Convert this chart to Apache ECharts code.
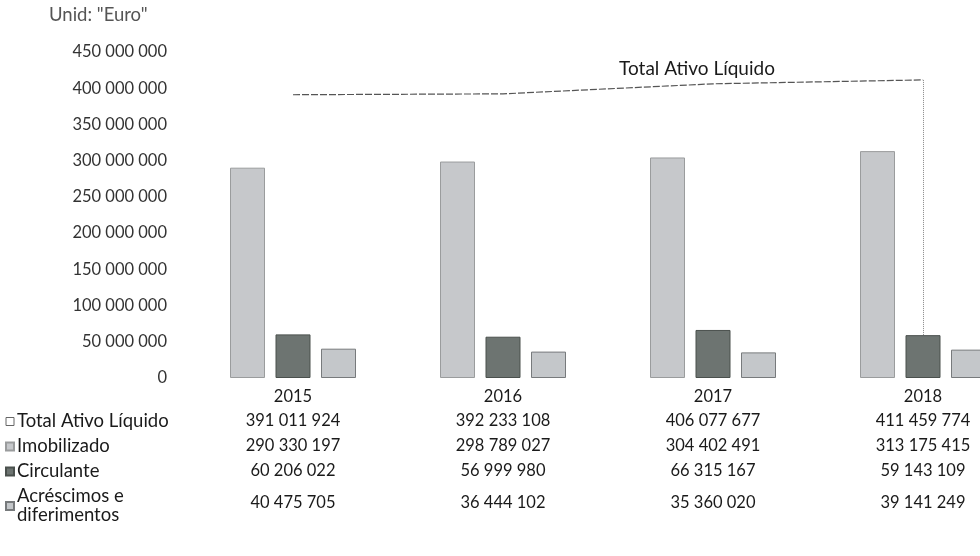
<!DOCTYPE html>
<html>
<head>
<meta charset="utf-8">
<script src="https://cdn.jsdelivr.net/npm/echarts@6/dist/echarts.min.js"></script>
<style>
  html, body { margin: 0; padding: 0; background: #fff; }
  #grafico { width: 980px; height: 556px; }
</style>
</head>
<body>
<div id="grafico"></div>
<script>
const anos = ['2015', '2016', '2017', '2018'];
const totalAtivo = [391011924, 392233108, 406077677, 411459774];
const imobilizado = [290330197, 298789027, 304402491, 313175415];
const circulante = [60206022, 56999980, 66315167, 59143109];
const acrescimos = [40475705, 36444102, 35360020, 39141249];
const eixoY = { min: 0, max: 450000000, intervalo: 50000000 };

const fonte = 'Lato';

// separador de milhares com espaco
const fmt = (n) => String(n).replace(/\B(?=(\d{3})+(?!\d))/g, ' ');

const chart = echarts.init(document.getElementById('grafico'));

const cores = {
  imobilizado: '#c6c8cb',
  circulante: '#6d7471',
  acrescimos: '#c4c7ca'
};

chart.setOption({
  animation: false,
  backgroundColor: '#fff',
  textStyle: { fontFamily: fonte },
  title: {
    text: 'Unid: "Euro"',
    left: 44, top: 1,
    textStyle: { fontFamily: fonte, fontSize: 18.5, fontWeight: 'normal', color: '#555' }
  },
  grid: { left: 188, right: -48, top: 52, bottom: 178, outerBoundsMode: 'none', containLabel: false },
  legend: {
    orient: 'vertical',
    left: 0, top: 407,
    itemWidth: 8, itemHeight: 8,
    itemGap: 6,
    selectedMode: false,
    textStyle: { fontFamily: fonte, fontSize: 18.5, color: '#1a1a1a', lineHeight: 19, padding: [0, 0, 0, -2] },
    data: [
      { name: 'Total Ativo Líquido', icon: 'rect', itemStyle: { color: '#fff', borderColor: '#666', borderWidth: 1 } },
      { name: 'Imobilizado', icon: 'rect' },
      { name: 'Circulante', icon: 'rect' },
      { name: 'Acréscimos e\ndiferimentos', icon: 'rect' }
    ]
  },
  xAxis: {
    type: 'category',
    data: anos,
    axisLine: { show: false },
    axisTick: { show: false },
    axisLabel: {
      margin: 8,
      interval: 0,
      formatter: (valor, i) => [
        '{ano|' + valor + '}',
        '{v|' + fmt(totalAtivo[i]) + '}',
        '{v|' + fmt(imobilizado[i]) + '}',
        '{v|' + fmt(circulante[i]) + '}',
        '{u|' + fmt(acrescimos[i]) + '}'
      ].join('\n'),
      rich: {
        ano: { fontFamily: fonte, fontSize: 16.5, color: '#1a1a1a', lineHeight: 22 },
        v: { fontFamily: fonte, fontSize: 16.5, color: '#1a1a1a', lineHeight: 25 },
        u: { fontFamily: fonte, fontSize: 16.5, color: '#1a1a1a', lineHeight: 40 }
      }
    }
  },
  yAxis: {
    type: 'value',
    min: eixoY.min,
    max: eixoY.max,
    interval: eixoY.intervalo,
    axisLine: { show: false },
    axisTick: { show: false },
    splitLine: { show: false },
    axisLabel: {
      margin: 21,
      fontFamily: fonte,
      fontSize: 16.5,
      color: '#333',
      formatter: (v) => fmt(v)
    }
  },
  series: [
    {
      name: 'Total Ativo Líquido',
      type: 'line',
      data: totalAtivo.map((v, i) => i === 2 ? {
        value: v,
        label: {
          show: true, position: 'top', distance: 5, offset: [-16, 0],
          formatter: 'Total Ativo Líquido',
          fontFamily: fonte, fontSize: 19, color: '#1a1a1a'
        }
      } : v),
      symbol: 'circle',
      symbolSize: 1,
      showSymbol: true,
      z: 5,
      lineStyle: { color: '#555', width: 1.2, type: [7, 2] },
      itemStyle: { color: 'rgba(0,0,0,0)', borderWidth: 0 },
      markLine: {
        silent: true,
        symbol: 'none',
        label: { show: false },
        lineStyle: { color: '#888', width: 1, type: 'dotted' },
        data: [[
          { coord: [anos[3], totalAtivo[3]] },
          { coord: [anos[3], circulante[3]] }
        ]]
      }
    },
    {
      name: 'Imobilizado',
      type: 'bar',
      data: imobilizado,
      barWidth: 35,
      barGap: '30%',
      itemStyle: { color: cores.imobilizado, borderColor: '#9a9c9d', borderWidth: 1 }
    },
    {
      name: 'Circulante',
      type: 'bar',
      data: circulante,
      barWidth: 35,
      barGap: '30%',
      itemStyle: { color: cores.circulante, borderColor: '#4a504d', borderWidth: 1 }
    },
    {
      name: 'Acréscimos e\ndiferimentos',
      type: 'bar',
      data: acrescimos,
      barWidth: 35,
      barGap: '30%',
      itemStyle: { color: cores.acrescimos, borderColor: '#777a7c', borderWidth: 1 }
    }
  ]
});
</script>
</body>
</html>
